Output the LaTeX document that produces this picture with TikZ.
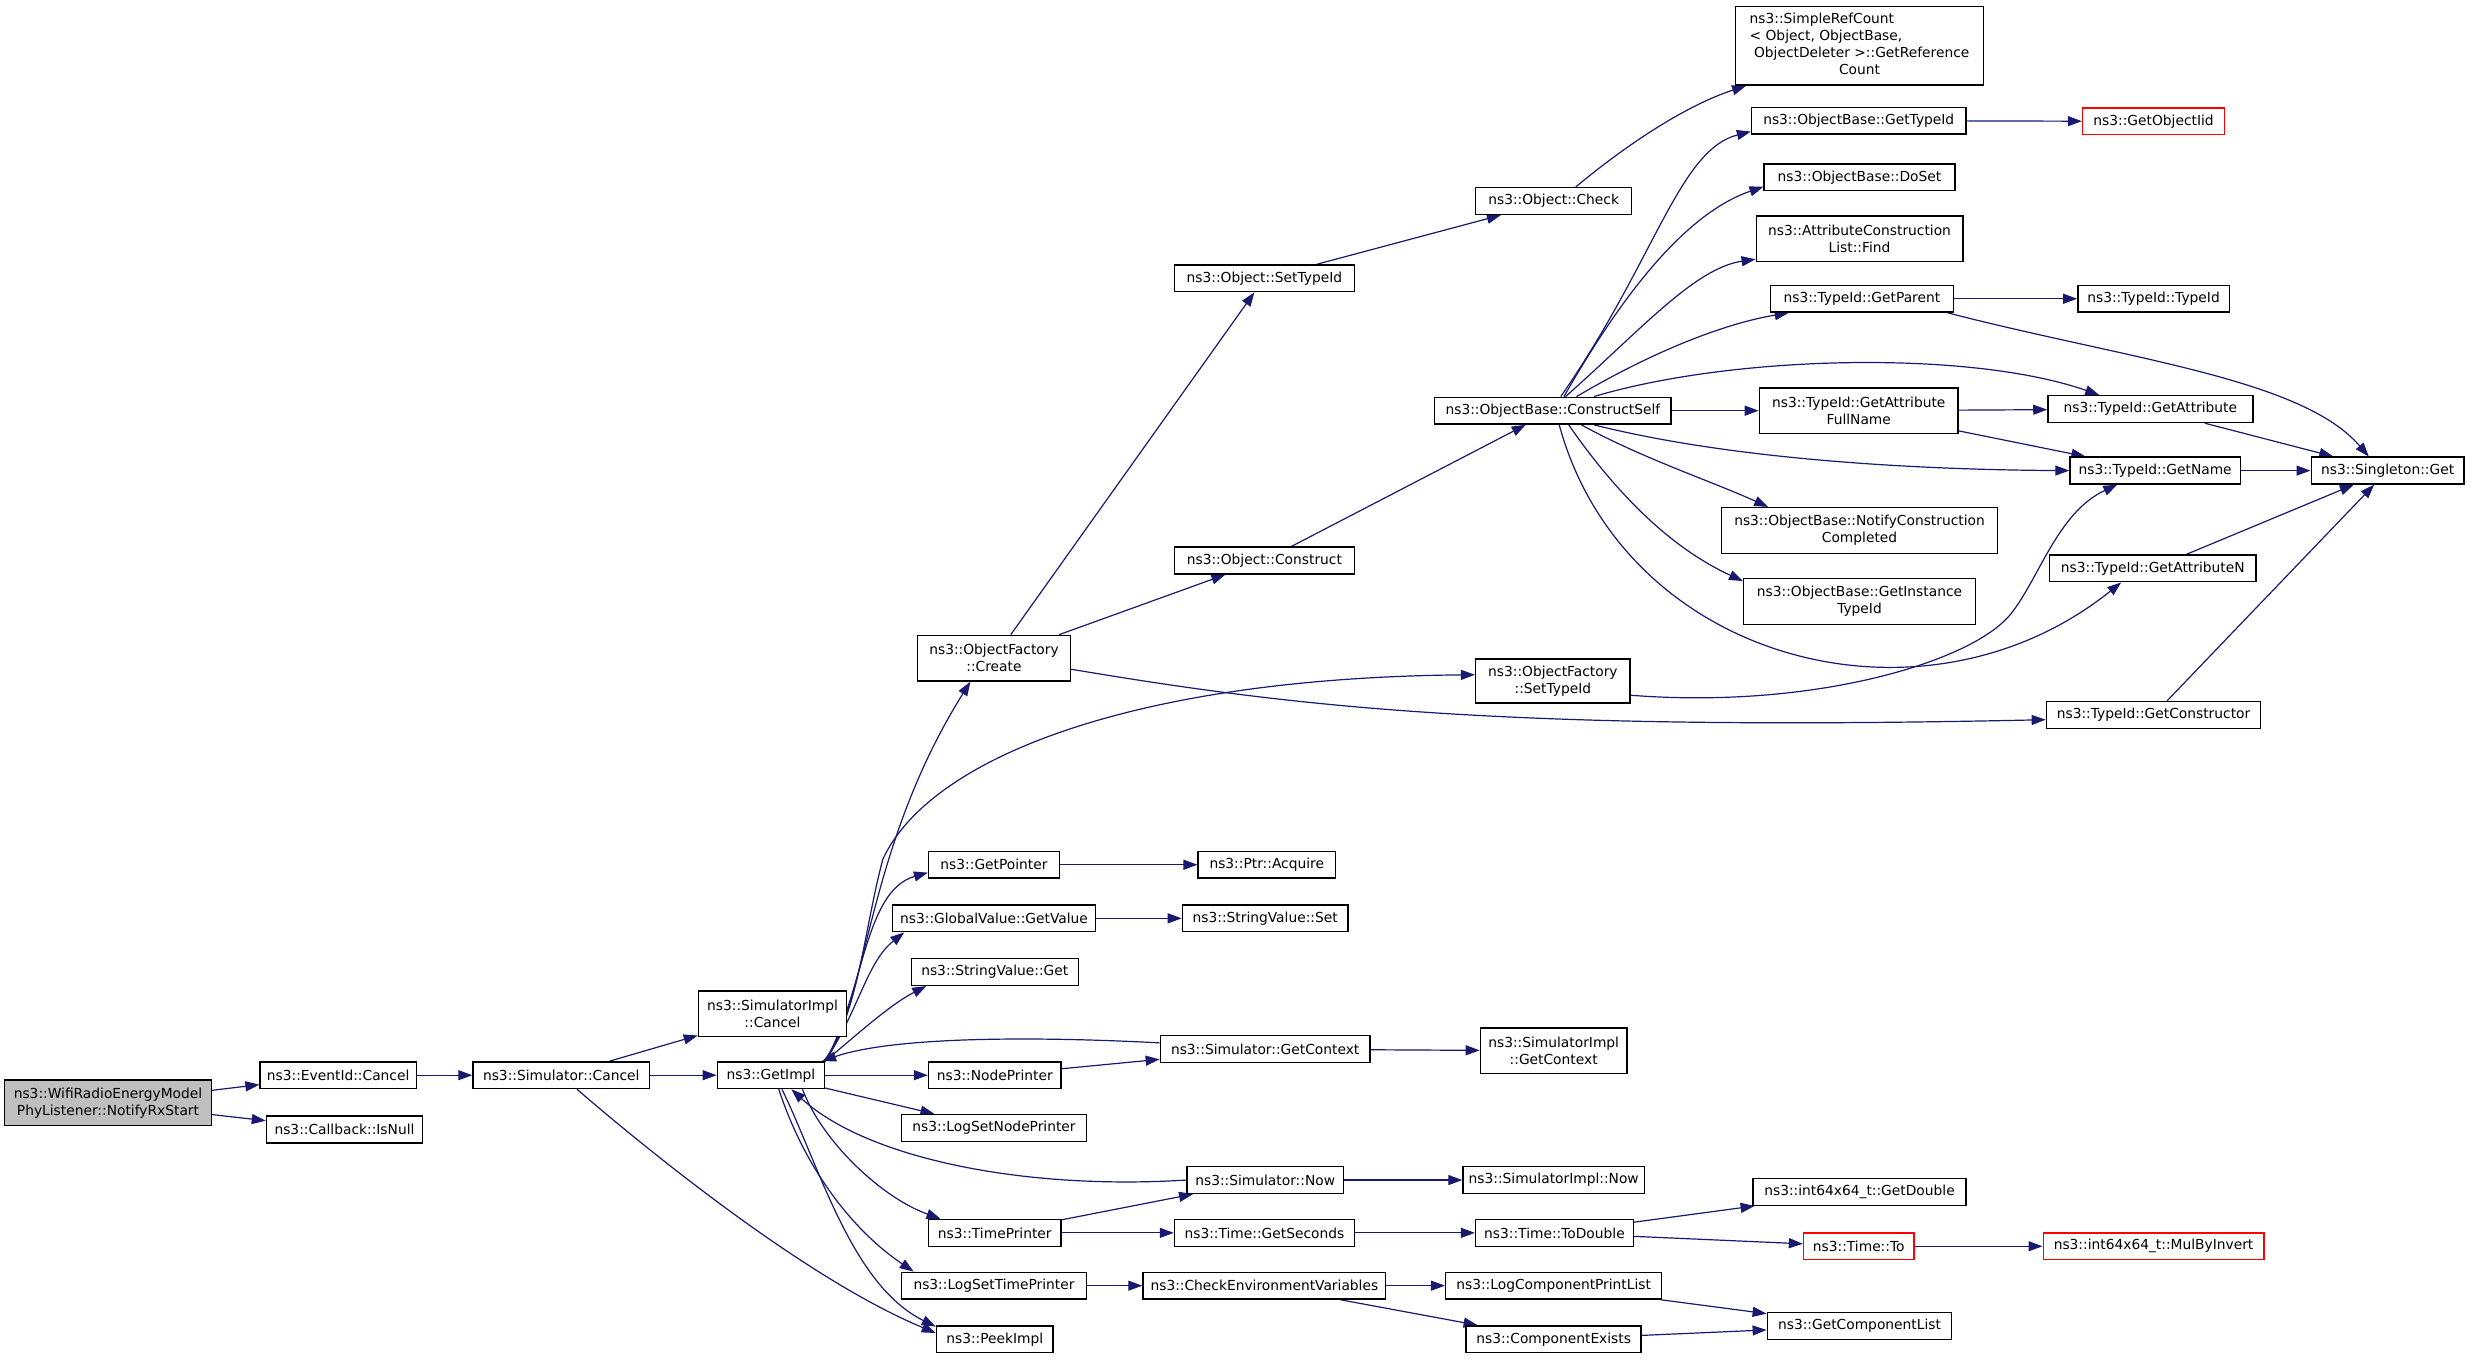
\documentclass[tikz,border=0pt]{standalone}
\usepackage{fontspec}
\setmainfont{DejaVu Sans}
\usetikzlibrary{arrows.meta,calc}
\definecolor{edgeblue}{HTML}{191970}
\definecolor{rootgray}{HTML}{BFBFBF}
\pgfdeclarelayer{bg}
\pgfdeclarelayer{edges}
\pgfsetlayers{bg,edges,main}
\begin{document}
\begin{tikzpicture}[x=0.78827pt,y=-0.78827pt,
  fnode/.style={draw=black,line width=0.7pt,fill=white,inner sep=1pt,align=center,
    font=\fontsize{6.9}{8.4}\selectfont,minimum height=17*0.78827pt},
  W/.style={minimum width=#1*0.78827pt},
  H/.style={minimum height=#1*0.78827pt},
  missing/.style={draw=red},
  call/.style={draw=edgeblue,line width=0.6pt,-{Triangle[length=7pt,width=5pt]}}]
\begin{pgfonlayer}{bg}
\path[use as bounding box,fill=white] (0,0) rectangle (1568,862.65);
\end{pgfonlayer}

% nodes
\node[fnode,W=131,H=29,fill=rootgray] (root) at (68.5,699.5) {ns3::WifiRadioEnergyModel\\PhyListener::NotifyRxStart};
\node[fnode,W=99] (evc) at (214.5,682) {ns3::EventId::Cancel};
\node[fnode,W=99] (isn) at (218.5,716.5) {ns3::Callback::IsNull};
\node[fnode,W=112] (simc) at (356,682) {ns3::Simulator::Cancel};
\node[fnode,W=94,H=29] (sic) at (490,643) {ns3::SimulatorImpl\\::Cancel};
\node[fnode,W=68] (gi) at (489,682) {ns3::GetImpl};
\node[fnode,W=97,H=29] (create) at (630.5,417.5) {ns3::ObjectFactory\\::Create};
\node[fnode,W=114] (ost) at (802,176.5) {ns3::Object::SetTypeId};
\node[fnode,W=99] (chk) at (985.5,127.5) {ns3::Object::Check};
\node[fnode,W=157,H=50] (src) at (1179.5,29) {\begin{tabular}{@{}l@{}}ns3::SimpleRefCount\\< Object, ObjectBase,\\\ ObjectDeleter >::GetReference\\\multicolumn{1}{@{}c@{}}{Count}\end{tabular}};
\node[fnode,W=114] (ocons) at (802,355.5) {ns3::Object::Construct};
\node[fnode,W=150] (cs) at (985,260.5) {ns3::ObjectBase::ConstructSelf};
\node[fnode,W=136] (obgt) at (1179,76.5) {ns3::ObjectBase::GetTypeId};
\node[fnode,missing,W=90] (goi) at (1366,77) {ns3::GetObjectIid};
\node[fnode,W=121] (doset) at (1179.5,112.5) {ns3::ObjectBase::DoSet};
\node[fnode,W=131,H=29] (find) at (1179.5,151.5) {ns3::AttributeConstruction\\List::Find};
\node[fnode,W=116] (gpar) at (1181,189.5) {ns3::TypeId::GetParent};
\node[fnode,W=96] (tid) at (1366,189.5) {ns3::TypeId::TypeId};
\node[fnode,W=126,H=29] (gafn) at (1179,260.5) {ns3::TypeId::GetAttribute\\FullName};
\node[fnode,W=130] (ga) at (1364,259.5) {ns3::TypeId::GetAttribute};
\node[fnode,W=108] (gn) at (1367,298.5) {ns3::TypeId::GetName};
\node[fnode,W=97] (sg) at (1514.5,298.5) {ns3::Singleton::Get};
\node[fnode,W=175,H=29] (ncc) at (1179.5,336.5) {ns3::ObjectBase::NotifyConstruction\\Completed};
\node[fnode,W=147,H=29] (giti) at (1179.5,381.5) {ns3::ObjectBase::GetInstance\\TypeId};
\node[fnode,W=131] (gan) at (1365.5,360.5) {ns3::TypeId::GetAttributeN};
\node[fnode,W=98,H=28] (ofst) at (985,432) {ns3::ObjectFactory\\::SetTypeId};
\node[fnode,W=136] (gcons) at (1366,453.5) {ns3::TypeId::GetConstructor};
\node[fnode,W=83] (gptr) at (630.5,548.5) {ns3::GetPointer};
\node[fnode,W=87] (acq) at (803.5,548.5) {ns3::Ptr::Acquire};
\node[fnode,W=129] (gv) at (630.5,582.5) {ns3::GlobalValue::GetValue};
\node[fnode,W=105] (svs) at (802.5,582.5) {ns3::StringValue::Set};
\node[fnode,W=106] (svg) at (631,616.5) {ns3::StringValue::Get};
\node[fnode,W=133] (sgc) at (802.5,665.5) {ns3::Simulator::GetContext};
\node[fnode,W=93,H=29] (sigc) at (985.5,666.5) {ns3::SimulatorImpl\\::GetContext};
\node[fnode,W=84] (np) at (631,682) {ns3::NodePrinter};
\node[fnode,W=117] (lsnp) at (630.5,715.5) {ns3::LogSetNodePrinter};
\node[fnode,W=99] (now) at (802.5,748.5) {ns3::Simulator::Now};
\node[fnode,W=115] (sinow) at (985.5,748.5) {ns3::SimulatorImpl::Now};
\node[fnode,W=84] (tp) at (631,782) {ns3::TimePrinter};
\node[fnode,W=114] (gs) at (802,782) {ns3::Time::GetSeconds};
\node[fnode,W=100] (td) at (986,782) {ns3::Time::ToDouble};
\node[fnode,W=135] (gd) at (1179.5,756) {ns3::int64x64\_t::GetDouble};
\node[fnode,missing,W=70] (to) at (1179,790.5) {ns3::Time::To};
\node[fnode,missing,W=140] (mbi) at (1366,790.5) {ns3::int64x64\_t::MulByInvert};
\node[fnode,W=117] (lstp) at (630.5,815.5) {ns3::LogSetTimePrinter};
\node[fnode,W=154] (cev) at (802,815.5) {ns3::CheckEnvironmentVariables};
\node[fnode,W=137] (lcpl) at (985.5,815.5) {ns3::LogComponentPrintList};
\node[fnode,W=111] (cex) at (985.5,849.5) {ns3::ComponentExists};
\node[fnode,W=117] (gcl) at (1179.5,841) {ns3::GetComponentList};
\node[fnode,W=74] (peek) at (631,849.5) {ns3::PeekImpl};

\begin{pgfonlayer}{edges}
\draw[call] (root) -- (evc);
\draw[call] (root) -- (isn);
\draw[call] (evc) -- (simc);
\draw[call] (simc) -- (sic);
\draw[call] (simc) -- (gi);
\draw[call] ($(simc.south)+(10,0)$) .. controls (430,746) and (520,815) .. ($(peek.west)+(0,-4)$);
% GetImpl upward
\draw[call] ($(gi.north east)+(-1,0)$) .. controls (550,640) and (548,540) .. ($(create.south)+(-15,0)$);
\draw[call] (gi.north east) .. controls (545,640) and (548,590) .. (560,545) .. controls (590,480) and (720,430) .. ($(ofst.west)+(0,-4)$);
\draw[call] (gi.north east) .. controls (548,630) and (548,565) .. ($(gptr.west)+(0,5)$);
\draw[call] (gi.north east) .. controls (545,640) and (550,610) .. ($(gv.south west)+(8,0)$);
\draw[call] (gi.north east) .. controls (545,655) and (565,637) .. ($(svg.south west)+(10,0)$);
\draw[call] ($(sgc.west)+(0,-4)$) .. controls (650,657) and (565,658) .. ($(gi.north east)+(-2,0)$);
\draw[call] (gi) -- (np);
\draw[call] (gi) -- (lsnp);
\draw[call] (now.west) .. controls (650,755) and (550,735) .. ($(gi.south)+(13,0)$);
\draw[call] ($(gi.south)+(20,0)$) .. controls (522,725) and (560,760) .. ($(tp.north west)+(8,0)$);
\draw[call] ($(gi.south)+(5,0)$) .. controls (510,740) and (540,780) .. ($(lstp.north west)+(8,0)$);
\draw[call] ($(gi.south)+(7,0)$) .. controls (520,740) and (540,815) .. ($(peek.west)+(0,-8)$);
% lower chains
\draw[call] (tp) -- (now);
\draw[call] (tp) -- (gs);
\draw[call] (gs) -- (td);
\draw[call] (td) -- (gd);
\draw[call] (td) -- (to);
\draw[call] (to) -- (mbi);
\draw[call] (lstp) -- (cev);
\draw[call] (cev) -- (lcpl);
\draw[call] (cev) -- (cex);
\draw[call] (lcpl) -- (gcl);
\draw[call] (cex) -- (gcl);
\draw[call] (gptr) -- (acq);
\draw[call] (gv) -- (svs);
\draw[call] (np) -- (sgc);
\draw[call] (sgc) -- (sigc);
\draw[call] (now) -- (sinow);
% ObjectFactory::Create
\draw[call] (create) -- (ost);
\draw[call] (create) -- (ocons);
\draw[call] ($(create.east)+(0,7)$) .. controls (820,448) and (950,464) .. ($(gcons.west)+(0,3)$);
\draw[call] (ost) -- (chk);
\draw[call] ($(chk.north)+(14,0)$) .. controls (1040,85) and (1075,65) .. ($(src.south west)+(7,0)$);
\draw[call] (ocons) -- (cs);
% ConstructSelf
\draw[call] ($(cs.north)+(5,0)$) .. controls (1050,165) and (1065,95) .. ($(obgt.south west)+(0,-2)$);
\draw[call] ($(cs.north)+(7,0)$) .. controls (1030,185) and (1070,135) .. ($(doset.south west)+(0,-3)$);
\draw[call] ($(cs.north)+(8,0)$) .. controls (1040,210) and (1075,170) .. ($(find.south west)+(0,-2)$);
\draw[call] ($(cs.north)+(15,0)$) .. controls (1050,222) and (1095,205) .. ($(gpar.south west)+(12,0)$);
\draw[call] ($(cs.north)+(26,0)$) .. controls (1100,225) and (1250,222) .. ($(ga.north west)+(33,0)$);
\draw[call] (cs) -- (gafn);
\draw[call] ($(cs.south)+(26,0)$) .. controls (1100,292) and (1220,298) .. (gn.west);
\draw[call] ($(cs.south)+(18,0)$) .. controls (1040,290) and (1085,305) .. ($(ncc.north west)+(30,0)$);
\draw[call] ($(cs.south)+(10,0)$) .. controls (1030,320) and (1065,350) .. ($(giti.north west)+(0,2)$);
\draw[call] ($(cs.south)+(4,0)$) .. controls (1030,420) and (1220,470) .. ($(gan.south)+(-20,0)$);
% right side
\draw[call] (obgt) -- (goi);
\draw[call] (gpar) -- (tid);
\draw[call] ($(gpar.south east)+(-4,0)$) .. controls (1350,228) and (1460,240) .. ($(sg.north)+(-12,0)$);
\draw[call] (gafn) -- (ga);
\draw[call] (gafn) -- (gn);
\draw[call] (ga) -- (sg);
\draw[call] (gn) -- (sg);
\draw[call] (gan) -- (sg);
\draw[call] ($(ofst.east)+(0,9)$) .. controls (1150,450) and (1250,420) .. (1275,390) .. controls (1293,368) and (1305,325) .. ($(gn.south)+(-24,0)$);
\draw[call] (gcons) -- (sg);
\end{pgfonlayer}
\end{tikzpicture}
\end{document}
